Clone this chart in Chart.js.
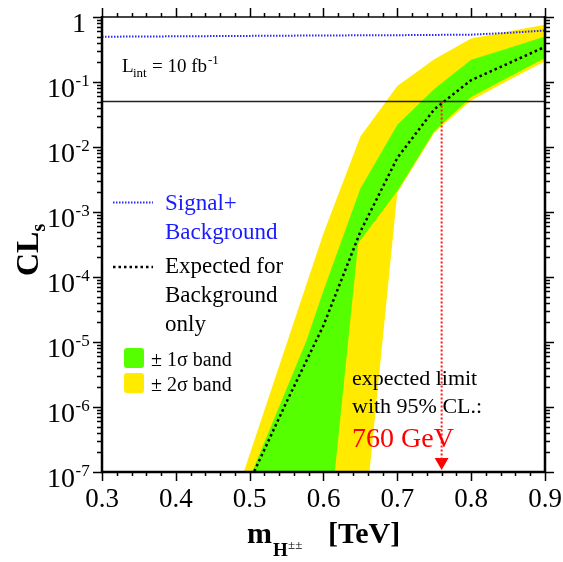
<!DOCTYPE html>
<html>
<head>
<meta charset="utf-8">
<script src="https://cdn.jsdelivr.net/npm/chart.js@4.4.0/dist/chart.umd.min.js"></script>
<style>
html, body { margin: 0; padding: 0; background: #fff; }
canvas { display: block; }
</style>
</head>
<body>
<canvas id="c" width="563" height="562"></canvas>
<script>
// axis ticks
var xTickLabels = ['0.3', '0.4', '0.5', '0.6', '0.7', '0.8', '0.9'];
var yTickExponents = [0, -1, -2, -3, -4, -5, -6, -7];

// signal + background
var sigBkgMass = [0.3, 0.6, 0.7, 0.8, 0.85, 0.9];
var sigBkgCLs = [0.497, 0.52, 0.525, 0.535, 0.57, 0.62];

// expected for background only (median)
var expMass = [0.5, 0.55, 0.6, 0.65, 0.7, 0.75, 0.8, 0.9];
var expCLs = [7.2e-8, 1.2e-6, 1.8e-5, 5.0e-4, 6.8e-3, 3.8e-2, 0.107, 0.347];

// +-1 sigma band
var band1HiMass = [0.48, 0.577, 0.6, 0.65, 0.7, 0.75, 0.8, 0.85, 0.9];
var band1HiCLs = [2.3e-8, 1.05e-5, 6.2e-5, 2.3e-3, 2.2e-2, 7.8e-2, 0.219, 0.331, 0.50];
var band1LoMass = [0.48, 0.6, 0.647, 0.7, 0.75, 0.8, 0.85, 0.9];
var band1LoCLs = [1e-14, 2.0e-9, 3.3e-4, 2.1e-3, 1.74e-2, 5.9e-2, 0.117, 0.234];

// +-2 sigma band
var band2HiMass = [0.48, 0.6, 0.65, 0.7, 0.75, 0.8, 0.85, 0.9];
var band2HiCLs = [3.9e-8, 4.7e-4, 1.45e-2, 8.7e-2, 0.224, 0.468, 0.596, 0.76];
var band2LoMass = [0.48, 0.6, 0.7, 0.75, 0.8, 0.85, 0.9];
var band2LoCLs = [1e-16, 8e-15, 2.0e-3, 1.66e-2, 5.2e-2, 0.105, 0.209];

// 95% CL line and expected limit
var clLevel = 0.05;
var limitMass = 0.76;
var arrowCLs = 1.43e-7;

var SERIF = '"Liberation Serif", "DejaVu Serif", serif';
var none = 'rgba(0,0,0,0)';

function pts(xs, ys) {
    return xs.map(function (x, i) { return {x: x, y: ys[i]}; });
}

var framePlugin = {
    id: 'frame',
    afterDraw: function (chart) {
        var ctx = chart.ctx, a = chart.chartArea;
        var xs = chart.scales.x, ys = chart.scales.y;
        ctx.save();

        // frame
        ctx.strokeStyle = '#444';
        ctx.lineWidth = 2;
        ctx.beginPath();
        ctx.moveTo(a.left, a.top);
        ctx.lineTo(a.right, a.top);
        ctx.stroke();
        ctx.strokeStyle = '#000';
        ctx.lineWidth = 2.5;
        ctx.beginPath();
        ctx.moveTo(a.left, a.top - 1);
        ctx.lineTo(a.left, a.bottom);
        ctx.lineTo(a.right, a.bottom);
        ctx.lineTo(a.right, a.top - 1);
        ctx.stroke();

        // x ticks (outward, bottom and top)
        ctx.lineWidth = 1.5;
        var x0 = parseFloat(xTickLabels[0]);
        var nMinor = (xTickLabels.length - 1) * 5;
        for (var i = 0; i <= nMinor; i++) {
            var px = Math.round(xs.getPixelForValue(x0 + i * 0.02)) + 0.5;
            var len = (i % 5 === 0) ? 9 : 4;
            ctx.beginPath();
            ctx.moveTo(px, a.bottom);
            ctx.lineTo(px, a.bottom + len);
            ctx.moveTo(px, a.top);
            ctx.lineTo(px, a.top - len);
            ctx.stroke();
        }

        // y ticks (outward, left and right)
        yTickExponents.forEach(function (e) {
            var base = Math.pow(10, e);
            var py = Math.round(ys.getPixelForValue(base)) + 0.5;
            ctx.beginPath();
            ctx.moveTo(a.left, py); ctx.lineTo(a.left - 9, py);
            ctx.moveTo(a.right, py); ctx.lineTo(a.right + 9, py);
            ctx.stroke();
            if (e < 0) {
                for (var m = 2; m <= 9; m++) {
                    var my = Math.round(ys.getPixelForValue(m * base)) + 0.5;
                    ctx.beginPath();
                    ctx.moveTo(a.left, my); ctx.lineTo(a.left - 5, my);
                    ctx.moveTo(a.right, my); ctx.lineTo(a.right + 5, my);
                    ctx.stroke();
                }
            }
        });

        // tick labels
        ctx.fillStyle = '#000';
        ctx.font = '27px ' + SERIF;
        ctx.textAlign = 'center';
        ctx.textBaseline = 'alphabetic';
        xTickLabels.forEach(function (t) {
            ctx.fillText(t, xs.getPixelForValue(parseFloat(t)), 507);
        });
        yTickExponents.forEach(function (e) {
            var py = ys.getPixelForValue(Math.pow(10, e));
            ctx.textAlign = 'right';
            ctx.font = '28px ' + SERIF;
            if (e === 0) {
                ctx.fillText('1', 86, py + 15);
            } else {
                ctx.fillText('10', 75, py + 15);
                ctx.textAlign = 'left';
                ctx.font = '17px ' + SERIF;
                ctx.fillText('-' + (-e), 75.5, py + 4);
            }
        });

        // x title
        ctx.textAlign = 'left';
        ctx.font = 'bold 30px ' + SERIF;
        ctx.fillText('m', 247, 543);
        ctx.font = 'bold 19px ' + SERIF;
        ctx.fillText('H', 273, 556);
        ctx.font = '13px ' + SERIF;
        ctx.fillText('\u00b1\u00b1', 288, 549);
        ctx.font = 'bold 30px ' + SERIF;
        ctx.fillText('[TeV]', 328, 543);

        // y title
        ctx.save();
        ctx.translate(38, 276);
        ctx.rotate(-Math.PI / 2);
        ctx.font = 'bold 32px ' + SERIF;
        ctx.fillText('CL', 0, 0);
        var wCL = ctx.measureText('CL').width;
        ctx.font = 'bold 20px ' + SERIF;
        ctx.fillText('s', wCL, 7);
        ctx.restore();

        // luminosity
        ctx.font = '19px ' + SERIF;
        ctx.fillText('L', 122, 72);
        ctx.font = '13px ' + SERIF;
        ctx.fillText('int', 133, 77);
        ctx.font = '19px ' + SERIF;
        ctx.fillText('= 10 fb', 152, 72);
        var wf = ctx.measureText('= 10 fb').width;
        ctx.font = '13px ' + SERIF;
        ctx.fillText('-1', 152 + wf + 1, 64);

        // legend
        ctx.lineWidth = 2;
        ctx.strokeStyle = '#2a2aff';
        ctx.setLineDash([1.5, 1.5]);
        ctx.beginPath(); ctx.moveTo(113, 202.5); ctx.lineTo(153, 202.5); ctx.stroke();
        ctx.strokeStyle = '#000';
        ctx.lineWidth = 2.5;
        ctx.setLineDash([2.5, 3]);
        ctx.beginPath(); ctx.moveTo(113, 267); ctx.lineTo(153, 267); ctx.stroke();
        ctx.setLineDash([]);

        ctx.font = '23px ' + SERIF;
        ctx.fillStyle = '#1a1aff';
        ctx.fillText('Signal+', 165, 210);
        ctx.fillText('Background', 165, 239);
        ctx.fillStyle = '#000';
        ctx.fillText('Expected for', 165, 273);
        ctx.fillText('Background', 165, 302);
        ctx.fillText('only', 165, 331);

        function swatch(x, y, c) {
            ctx.fillStyle = c;
            ctx.beginPath();
            ctx.roundRect(x, y, 20, 20, 3);
            ctx.fill();
        }
        swatch(124, 348, '#55ff00');
        swatch(124, 373, '#ffea00');
        ctx.fillStyle = '#000';
        ctx.font = '20px ' + SERIF;
        ctx.fillText('\u00b1 1\u03c3 band', 151, 366);
        ctx.fillText('\u00b1 2\u03c3 band', 151, 391);

        // limit text
        ctx.font = '22px ' + SERIF;
        ctx.fillText('expected limit', 352, 385);
        ctx.fillText('with 95% CL.:', 352, 413);
        ctx.fillStyle = '#ff0000';
        ctx.font = '28px ' + SERIF;
        ctx.fillText('760 GeV', 352, 447);

        ctx.restore();
    }
};

new Chart(document.getElementById('c'), {
    type: 'line',
    data: {
        datasets: [
            {data: pts(sigBkgMass, sigBkgCLs), borderColor: '#2a2aff', borderWidth: 2, borderDash: [1.5, 1.5], pointRadius: 0, fill: false},
            {data: pts([limitMass, limitMass], [clLevel, arrowCLs]), borderColor: '#ff1a1a', borderWidth: 2, borderDash: [2, 2], pointRadius: 0, fill: false},
            {data: pts([limitMass], [arrowCLs]), showLine: false, pointStyle: 'triangle', pointRadius: 8, rotation: 180, pointBackgroundColor: '#ff0000', pointBorderWidth: 0, borderColor: none},
            {data: pts([0.3, 0.9], [clLevel, clLevel]), borderColor: '#222', borderWidth: 1.5, pointRadius: 0, fill: false},
            {data: pts(expMass, expCLs), borderColor: '#000', borderWidth: 2.5, borderDash: [2.5, 3], pointRadius: 0, fill: false},
            {data: pts(band1LoMass, band1LoCLs), borderColor: none, borderWidth: 1, pointRadius: 0, fill: '+1', backgroundColor: '#55ff00'},
            {data: pts(band1HiMass, band1HiCLs), borderColor: none, borderWidth: 1, pointRadius: 0, fill: false},
            {data: pts(band2LoMass, band2LoCLs), borderColor: none, borderWidth: 1, pointRadius: 0, fill: '+1', backgroundColor: '#ffea00'},
            {data: pts(band2HiMass, band2HiCLs), borderColor: none, borderWidth: 1, pointRadius: 0, fill: false}
        ]
    },
    options: {
        responsive: false,
        animation: false,
        layout: {padding: {left: 102, right: 18, top: 17, bottom: 90}},
        elements: {line: {tension: 0}},
        plugins: {legend: {display: false}, tooltip: {enabled: false}},
        scales: {
            x: {type: 'linear', min: 0.3, max: 0.9, display: false},
            y: {type: 'logarithmic', min: 1e-7, max: 1, display: false}
        }
    },
    plugins: [framePlugin]
});
</script>
</body>
</html>
